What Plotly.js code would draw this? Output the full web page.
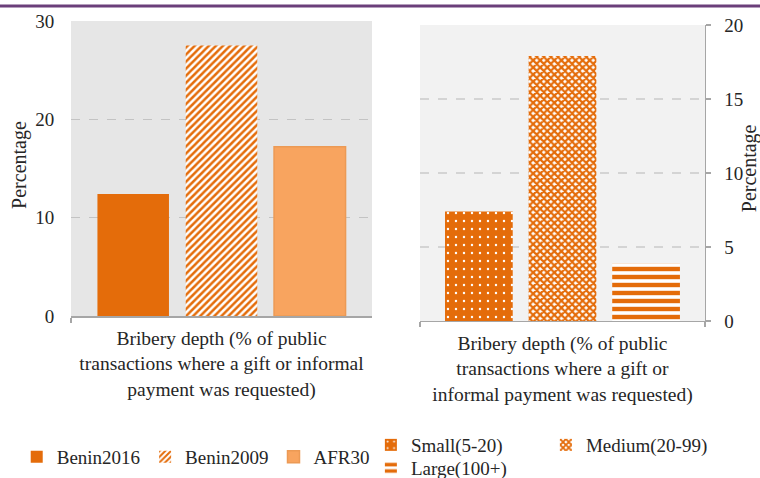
<!DOCTYPE html>
<html>
<head>
<meta charset="utf-8">
<script src="https://cdn.plot.ly/plotly-3.0.1.min.js"></script>
<style>html,body{margin:0;padding:0;background:#fff;}#chart{width:760px;height:478px;}</style>
</head>
<body>
<div id="chart"></div>
<script>
// ---- data ----
var leftCategory = ["Bribery depth (% of public<br>transactions where a gift or informal<br>payment was requested)"];
var rightCategory = ["Bribery depth (% of public<br>transactions where a gift or<br>informal payment was requested)"];

var leftSeries = ["Benin2016", "Benin2009", "AFR30"];
var benin2016 = [12.4];
var benin2009 = [27.5];
var afr30 = [17.2];

var rightSeries = ["Small(5-20)", "Medium(20-99)", "Large(100+)"];
var small = [7.4];
var medium = [17.9];
var large = [3.9];

var leftTicks = [0, 10, 20, 30];
var rightTicks = [0, 5, 10, 15, 20];
var yTitle = "Percentage";

// ---- styles ----
var ORANGE = "#E46C0A";
var LIGHT = "#F8A45F";
var FONT = "'Liberation Serif', 'Times New Roman', serif";
var TXT = "#262626";

var traces = [
  {type: "bar", x: leftCategory, y: benin2016, name: leftSeries[0], xaxis: "x", yaxis: "y", legend: "legend",
   marker: {color: ORANGE, line: {width: 0}}},
  {type: "bar", x: leftCategory, y: benin2009, name: leftSeries[1], xaxis: "x", yaxis: "y", legend: "legend",
   marker: {color: "white", line: {width: 0}, pattern: {shape: "/", fgcolor: ORANGE, bgcolor: "white", fgopacity: 1, size: 5, solidity: 0.5, fillmode: "replace"}}},
  {type: "bar", x: leftCategory, y: afr30, name: leftSeries[2], xaxis: "x", yaxis: "y", legend: "legend",
   marker: {color: LIGHT, line: {width: 1.5, color: "#EC9A55"}}},
  {type: "bar", x: rightCategory, y: small, name: rightSeries[0], xaxis: "x2", yaxis: "y2", legend: "legend2",
   marker: {color: ORANGE, line: {width: 0}, pattern: {shape: ".", fgcolor: "white", bgcolor: ORANGE, fgopacity: 1, size: 8, solidity: 0.07, fillmode: "replace"}}},
  {type: "bar", x: rightCategory, y: medium, name: rightSeries[1], xaxis: "x2", yaxis: "y2", legend: "legend2",
   marker: {color: "white", line: {width: 0}, pattern: {shape: "x", fgcolor: ORANGE, bgcolor: "white", fgopacity: 1, size: 5, solidity: 0.7, fillmode: "replace"}}},
  {type: "bar", x: rightCategory, y: large, name: rightSeries[2], xaxis: "x2", yaxis: "y2", legend: "legend3",
   marker: {color: "white", line: {width: 0}, pattern: {shape: "-", fgcolor: ORANGE, bgcolor: "white", fgopacity: 1, size: 8, solidity: 0.55, fillmode: "replace"}}}
];

var baseX = {
  showline: true, linecolor: "#a6a6a6", linewidth: 1.5, ticks: "outside", tickson: "boundaries",
  ticklen: 5, tickcolor: "#a6a6a6", tickwidth: 1.5, showgrid: false, fixedrange: true,
  ticklabelstandoff: 4,
  tickfont: {family: FONT, size: 19.5, color: TXT}
};

var layout = {
  width: 760, height: 478,
  margin: {l: 0, r: 0, t: 0, b: 0, autoexpand: false},
  paper_bgcolor: "white", plot_bgcolor: "white",
  font: {family: FONT, color: TXT},
  barmode: "group", bargap: 0.12, bargroupgap: 0.19,
  showlegend: true,
  xaxis: Object.assign({}, baseX, {domain: [0.0934, 0.4895], anchor: "y"}),
  xaxis2: Object.assign({}, baseX, {domain: [0.5526, 0.9276], anchor: "y2"}),
  yaxis: {
    domain: [0.3389, 0.9561], anchor: "x", range: [0, 30], tickvals: leftTicks,
    showline: false, zeroline: false, showgrid: true, gridcolor: "#c3c3c3", gridwidth: 1.5, griddash: "dash",
    ticks: "outside", ticklen: 12, tickcolor: "rgba(0,0,0,0)",
    tickfont: {family: FONT, size: 19, color: TXT}
  },
  yaxis2: {
    domain: [0.3285, 0.9477], anchor: "x2", side: "right", range: [0, 20], tickvals: rightTicks,
    showline: true, linecolor: "#a6a6a6", linewidth: 1.5, zeroline: false,
    showgrid: true, gridcolor: "#d4d4d4", gridwidth: 1.5, griddash: "dash",
    ticks: "outside", ticklen: 5, tickcolor: "#a6a6a6", tickwidth: 1.5, ticklabelstandoff: 9,
    tickfont: {family: FONT, size: 19, color: TXT}
  },
  legend: {orientation: "h", x: 0.022, xanchor: "left", y: 0.044, yanchor: "middle",
    font: {family: FONT, size: 19, color: TXT}, bgcolor: "rgba(0,0,0,0)", traceorder: "normal"},
  legend2: {orientation: "h", x: 0.488, xanchor: "left", y: 0.069, yanchor: "middle",
    entrywidth: 130, entrywidthmode: "pixels",
    font: {family: FONT, size: 19, color: TXT}, bgcolor: "rgba(0,0,0,0)", traceorder: "normal"},
  legend3: {orientation: "h", x: 0.488, xanchor: "left", y: 0.021, yanchor: "middle",
    font: {family: FONT, size: 19, color: TXT}, bgcolor: "rgba(0,0,0,0)"},
  shapes: [
    {type: "rect", xref: "x domain", yref: "y domain", x0: 0, x1: 1, y0: 0, y1: 1, fillcolor: "#e6e6e6", line: {width: 0}, layer: "below"},
    {type: "rect", xref: "x2 domain", yref: "y2 domain", x0: 0, x1: 1, y0: 0, y1: 1, fillcolor: "#f2f2f2", line: {width: 0}, layer: "below"},
    {type: "line", xref: "paper", yref: "paper", x0: 0, x1: 1, y0: 0.9874, y1: 0.9874, line: {color: "#6B3F7A", width: 3}}
  ],
  annotations: [
    {text: yTitle, xref: "paper", yref: "paper", x: 0.0263, y: 0.655, textangle: -90, showarrow: false,
     xanchor: "center", yanchor: "middle", font: {family: FONT, size: 20, color: TXT}},
    {text: yTitle, xref: "paper", yref: "paper", x: 0.9855, y: 0.648, textangle: -90, showarrow: false,
     xanchor: "center", yanchor: "middle", font: {family: FONT, size: 20, color: TXT}}
  ]
};

Plotly.newPlot("chart", traces, layout, {displayModeBar: false, staticPlot: true});
</script>
</body>
</html>
